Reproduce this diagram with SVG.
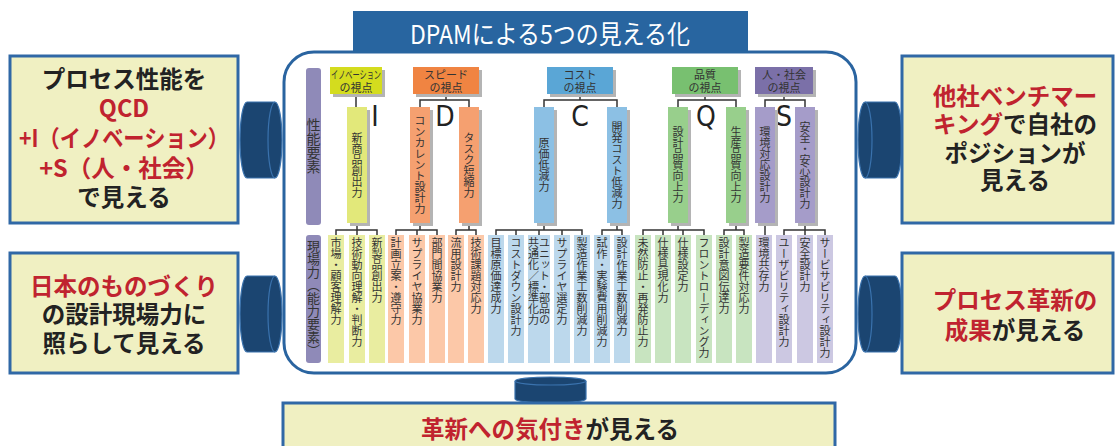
<svg xmlns="http://www.w3.org/2000/svg" width="1118" height="446" viewBox="0 0 1118 446">
<style>
.box{fill:#f0f0c2;stroke:#3068a6;stroke-width:3}
.big{font-family:"Noto Sans CJK JP",sans-serif;font-size:23.5px;font-weight:bold;fill:#222;text-anchor:middle}
.red{fill:#c0232f}
.cyl{fill:#1b4571;stroke:#3a72ad;stroke-width:1.2}
.cl{fill:none;stroke:#3a72ad;stroke-width:1.2}
.sh{fill:#b4b4b4}
.hd{font-family:"Noto Sans CJK JP",sans-serif;font-size:11px;fill:#333;text-anchor:middle}
.v{font-family:"Noto Sans CJK JP",sans-serif;font-size:11px;fill:#333;writing-mode:vertical-rl}
.vm{text-anchor:middle}
.lt{font-family:"Liberation Sans Narrow","DejaVu Sans Condensed","Liberation Sans",sans-serif;font-size:28px;fill:#222;text-anchor:middle}
.ln{fill:none;stroke:#333;stroke-width:1.5}
.lab{fill:#8f8ab8}
</style>
<rect width="1118" height="446" fill="#fff"/>

<g id="frame">
<rect x="284" y="52" width="572" height="321" rx="30" fill="none" stroke="#2a64a0" stroke-width="3"/>
</g>

<g id="title">
<rect x="353" y="11" width="395" height="42" fill="#2865a0"/>
<text x="550" y="44" font-family="Noto Sans CJK JP,sans-serif" font-size="26" fill="#fff" text-anchor="middle" textLength="280" lengthAdjust="spacingAndGlyphs">DPAMによる5つの見える化</text>
</g>

<g id="cylinders">
<path class="cyl" d="M247,102 H275 A7,38 0 0 1 275,178 H247 A7,38 0 0 1 247,102 Z"/>
<path class="cl" d="M275,102 A7,38 0 0 0 275,178"/>
<path class="cyl" d="M247,276 H275 A7,38 0 0 1 275,352 H247 A7,38 0 0 1 247,276 Z"/>
<path class="cl" d="M275,276 A7,38 0 0 0 275,352"/>
<path class="cyl" d="M865,102 H895 A7,38 0 0 1 895,178 H865 A7,38 0 0 1 865,102 Z"/>
<path class="cl" d="M865,102 A7,38 0 0 1 865,178"/>
<path class="cyl" d="M865,276 H895 A7,38 0 0 1 895,352 H865 A7,38 0 0 1 865,276 Z"/>
<path class="cl" d="M865,276 A7,38 0 0 1 865,352"/>
<path class="cyl" d="M515,381 A35.5,4 0 0 1 586,381 V399 A35.5,4 0 0 1 515,399 Z"/>
<path class="cl" d="M515,381 A35.5,4 0 0 0 586,381"/>
</g>

<g id="box-left-top">
<rect class="box" x="10" y="56" width="228" height="167"/>
<text class="big" x="124" y="88">プロセス性能を<tspan class="red" x="124" y="117">QCD</tspan><tspan class="red" x="124" y="147" textLength="210" lengthAdjust="spacingAndGlyphs">+I（イノベーション）</tspan><tspan class="red" x="124" y="177">+S（人・社会）</tspan><tspan x="124" y="206">で見える</tspan></text>
</g>

<g id="box-left-bottom">
<rect class="box" x="10" y="253" width="228" height="120"/>
<text class="big" x="124" y="295"><tspan class="red">日本のものづくり</tspan><tspan x="124" y="323">の設計現場力に</tspan><tspan x="124" y="352">照らして見える</tspan></text>
</g>

<g id="box-right-top">
<rect class="box" x="902" y="56" width="211" height="167"/>
<text class="big" x="1015" y="105"><tspan class="red">他社ベンチマー</tspan><tspan class="red" x="1015" y="133">キング</tspan><tspan>で自社の</tspan><tspan x="1015" y="162">ポジションが</tspan><tspan x="1015" y="189">見える</tspan></text>
</g>

<g id="box-right-bottom">
<rect class="box" x="902" y="253" width="211" height="120"/>
<text class="big" x="1015" y="309"><tspan class="red">プロセス革新の</tspan><tspan class="red" x="1015" y="339">成果</tspan><tspan>が見える</tspan></text>
</g>

<g id="box-bottom">
<rect class="box" x="283" y="403" width="552" height="50"/>
<text class="big" x="550" y="438"><tspan class="red">革新への気付き</tspan>が見える</text>
</g>

<g id="labels">
<rect class="lab" x="306" y="68" width="15" height="157" rx="3"/>
<text class="v vm" x="313.5" y="146" style="font-size:14px">性能要素</text>
<rect class="lab" x="306" y="235" width="15" height="128" rx="3"/>
<text class="v vm" x="313.5" y="298" style="font-size:13px">現場力（能力要素）</text>
</g>

<g id="connectors">
<path class="ln" d="M356,94 V107"/>
<path class="ln" d="M446,94 V100 M420,107 V100 H469 V107"/>
<path class="ln" d="M580,94 V100 M544,107 V100 H617 V107"/>
<path class="ln" d="M705,94 V100 M678,107 V100 H736 V107"/>
<path class="ln" d="M784,94 V100 M765,107 V100 H805 V107"/>
<path class="ln" d="M357,223 V230 M336,235 V230 H377 V235 M357,230 V235"/>
<path class="ln" d="M420,223 V230 M396,235 V230 H437 V235 M417,230 V235"/>
<path class="ln" d="M469,223 V230 M456,235 V230 H476 V235"/>
<path class="ln" d="M544,223 V230 M496,235 V230 H582 V235 M516,230 V235 M539,230 V235 M562,230 V235"/>
<path class="ln" d="M617,223 V230 M602,235 V230 H622 V235"/>
<path class="ln" d="M678,223 V230 M643,235 V230 H704 V235 M663,230 V235 M683,230 V235"/>
<path class="ln" d="M736,223 V230 M724,235 V230 H744 V235"/>
<path class="ln" d="M765,223 V235"/>
<path class="ln" d="M805,223 V230 M784,235 V230 H825 V235 M805,230 V235"/>
</g>

<g id="view-I">
<rect class="sh" x="333" y="70" width="52" height="27"/>
<rect x="330" y="67" width="52" height="27" fill="#d4dc1e"/>
<text class="hd" x="356" y="79"><tspan textLength="50" lengthAdjust="spacingAndGlyphs">イノベーション</tspan><tspan x="356" y="91.5">の視点</tspan></text>
<text class="lt" x="375" y="126">I</text>
</g>
<g id="view-D">
<rect class="sh" x="416" y="70" width="66" height="27"/>
<rect x="413" y="67" width="66" height="27" fill="#f08442"/>
<text class="hd" x="446" y="79">スピード<tspan x="446" y="91.5">の視点</tspan></text>
<text class="lt" x="445" y="126">D</text>
</g>
<g id="view-C">
<rect class="sh" x="550" y="70" width="66" height="27"/>
<rect x="547" y="67" width="66" height="27" fill="#5aa6d6"/>
<text class="hd" x="580" y="79">コスト<tspan x="580" y="91.5">の視点</tspan></text>
<text class="lt" x="580" y="126">C</text>
</g>
<g id="view-Q">
<rect class="sh" x="675" y="70" width="66" height="27"/>
<rect x="672" y="67" width="66" height="27" fill="#78c070"/>
<text class="hd" x="705" y="79">品質<tspan x="705" y="91.5">の視点</tspan></text>
<text class="lt" x="706" y="126">Q</text>
</g>
<g id="view-S">
<rect class="sh" x="758" y="70" width="58" height="27"/>
<rect x="755" y="67" width="58" height="27" fill="#7b70a8"/>
<text class="hd" x="784" y="79">人・社会<tspan x="784" y="91.5">の視点</tspan></text>
<text class="lt" x="784" y="126">S</text>
</g>

<g id="perf-I1"><rect class="sh" x="350" y="110" width="20" height="116"/><rect x="347" y="107" width="20" height="116" fill="#e2e87a"/><text class="v vm" x="357" y="165">新商品創出力</text></g>
<g id="perf-D1"><rect class="sh" x="413" y="110" width="20" height="116"/><rect x="410" y="107" width="20" height="116" fill="#f5a070"/><text class="v vm" x="420" y="165">コンカレント設計力</text></g>
<g id="perf-D2"><rect class="sh" x="462" y="110" width="20" height="116"/><rect x="459" y="107" width="20" height="116" fill="#f5a070"/><text class="v vm" x="469" y="165">タスク短縮力</text></g>
<g id="perf-C1"><rect class="sh" x="537" y="110" width="20" height="116"/><rect x="534" y="107" width="20" height="116" fill="#8cc0e4"/><text class="v vm" x="544" y="165">原価低減力</text></g>
<g id="perf-C2"><rect class="sh" x="610" y="110" width="20" height="116"/><rect x="607" y="107" width="20" height="116" fill="#8cc0e4"/><text class="v vm" x="617" y="165">開発コスト低減力</text></g>
<g id="perf-Q1"><rect class="sh" x="671" y="110" width="20" height="116"/><rect x="668" y="107" width="20" height="116" fill="#98cf8c"/><text class="v vm" x="678" y="165">設計品質向上力</text></g>
<g id="perf-Q2"><rect class="sh" x="729" y="110" width="20" height="116"/><rect x="726" y="107" width="20" height="116" fill="#98cf8c"/><text class="v vm" x="736" y="165">生産品質向上力</text></g>
<g id="perf-S1"><rect class="sh" x="758" y="110" width="20" height="116"/><rect x="755" y="107" width="20" height="116" fill="#a59cc9"/><text class="v vm" x="765" y="165">環境対応設計力</text></g>
<g id="perf-S2"><rect class="sh" x="798" y="110" width="20" height="116"/><rect x="795" y="107" width="20" height="116" fill="#a59cc9"/><text class="v vm" x="805" y="165">安全・安心設計力</text></g>

<g id="field-1"><rect x="328" y="235" width="16" height="128" fill="#e9eda0"/><text class="v" x="336" y="237">市場・顧客理解力</text></g>
<g id="field-2"><rect x="349" y="235" width="16" height="128" fill="#e9eda0"/><text class="v" x="357" y="237">技術動向理解・判断力</text></g>
<g id="field-3"><rect x="369" y="235" width="16" height="128" fill="#e9eda0"/><text class="v" x="377" y="237">新製品創出力</text></g>
<g id="field-4"><rect x="388" y="235" width="16" height="128" fill="#fcc8a8"/><text class="v" x="396" y="237">計画立案・遵守力</text></g>
<g id="field-5"><rect x="409" y="235" width="16" height="128" fill="#fcc8a8"/><text class="v" x="417" y="237">サプライヤ協業力</text></g>
<g id="field-6"><rect x="429" y="235" width="16" height="128" fill="#fcc8a8"/><text class="v" x="437" y="237">部門間協業力</text></g>
<g id="field-7"><rect x="448" y="235" width="16" height="128" fill="#fcc8a8"/><text class="v" x="456" y="237">流用設計力</text></g>
<g id="field-8"><rect x="468" y="235" width="16" height="128" fill="#fcc8a8"/><text class="v" x="476" y="237">技術課題対応力</text></g>
<g id="field-9"><rect x="488" y="235" width="16" height="128" fill="#bcd8ec"/><text class="v" x="496" y="237">目標原価達成力</text></g>
<g id="field-10"><rect x="508" y="235" width="16" height="128" fill="#bcd8ec"/><text class="v" x="516" y="237">コストダウン設計力</text></g>
<g id="field-11"><rect x="528" y="235" width="22" height="128" fill="#bcd8ec"/><text class="v" x="544.5" y="237">ユニット・部品の<tspan x="533.5" y="237">共通化／標準化力</tspan></text></g>
<g id="field-12"><rect x="554" y="235" width="16" height="128" fill="#bcd8ec"/><text class="v" x="562" y="237">サプライヤ選定力</text></g>
<g id="field-13"><rect x="574" y="235" width="16" height="128" fill="#bcd8ec"/><text class="v" x="582" y="237">製造作業工数削減力</text></g>
<g id="field-14"><rect x="594" y="235" width="16" height="128" fill="#bcd8ec"/><text class="v" x="602" y="237">試作・実験費用削減力</text></g>
<g id="field-15"><rect x="614" y="235" width="16" height="128" fill="#bcd8ec"/><text class="v" x="622" y="237">設計作業工数削減力</text></g>
<g id="field-16"><rect x="635" y="235" width="16" height="128" fill="#c8e4c0"/><text class="v" x="643" y="237">未然防止・再発防止力</text></g>
<g id="field-17"><rect x="655" y="235" width="16" height="128" fill="#c8e4c0"/><text class="v" x="663" y="237">仕様具現化力</text></g>
<g id="field-18"><rect x="675" y="235" width="16" height="128" fill="#c8e4c0"/><text class="v" x="683" y="237">仕様設定力</text></g>
<g id="field-19"><rect x="696" y="235" width="16" height="128" fill="#c8e4c0"/><text class="v" x="704" y="237">フロントローディング力</text></g>
<g id="field-20"><rect x="716" y="235" width="16" height="128" fill="#c8e4c0"/><text class="v" x="724" y="237">設計意図伝達力</text></g>
<g id="field-21"><rect x="736" y="235" width="16" height="128" fill="#c8e4c0"/><text class="v" x="744" y="237">製造要件対応力</text></g>
<g id="field-22"><rect x="756" y="235" width="16" height="128" fill="#ccc8e2"/><text class="v" x="764" y="237">環境共存力</text></g>
<g id="field-23"><rect x="776" y="235" width="16" height="128" fill="#ccc8e2"/><text class="v" x="784" y="237">ユーザビリティ設計力</text></g>
<g id="field-24"><rect x="797" y="235" width="16" height="128" fill="#ccc8e2"/><text class="v" x="805" y="237">安全設計力</text></g>
<g id="field-25"><rect x="817" y="235" width="16" height="128" fill="#ccc8e2"/><text class="v" x="825" y="237">サービサビリティ設計力</text></g>
</svg>
